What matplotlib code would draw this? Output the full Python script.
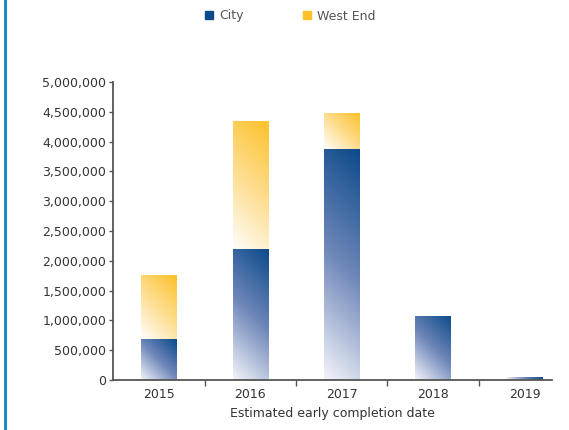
import numpy as np
import matplotlib
matplotlib.use("Agg")
import matplotlib.pyplot as plt
from matplotlib.colors import LinearSegmentedColormap
from matplotlib.lines import Line2D
from matplotlib.patches import Rectangle
from matplotlib.ticker import FuncFormatter, FixedLocator

years = ["2015", "2016", "2017", "2018", "2019"]
city = [680000, 2200000, 3880000, 1080000, 50000]
west_end = [1080000, 2150000, 600000, 0, 0]

plt.rcParams['font.family'] = ['DejaVu Sans']

city_cmap = LinearSegmentedColormap.from_list("city", ["#f3f4fa", "#6f87b9", "#0b4a8a"])
west_cmap = LinearSegmentedColormap.from_list("west", ["#fffefa", "#fddd8e", "#fdc12a"])

fig = plt.figure(figsize=(5.69, 4.30), dpi=100)
ax = fig.add_axes([113 / 569, 1 - 380 / 430, (552 - 113) / 569, (380 - 82) / 430])

x = np.arange(len(years))
width = 0.39
ax.set_xlim(-0.503, 4.30)
ax.set_ylim(0, 5000000)

bars_c = ax.bar(x, city, width, color="none", edgecolor="none")
bars_w = ax.bar(x, west_end, width, bottom=city, color="none", edgecolor="none")

fig.canvas.draw()


def fill_gradient(bar, cmap):
    # diagonal gradient: dark at top-right, light at bottom-left (in pixel space)
    x0, y0 = bar.get_x(), bar.get_y()
    w, h = bar.get_width(), bar.get_height()
    if h <= 0:
        return
    p0 = ax.transData.transform((x0, y0))
    p1 = ax.transData.transform((x0 + w, y0 + h))
    wpx, hpx = max(p1[0] - p0[0], 1), max(p1[1] - p0[1], 1)
    gx = np.linspace(0, wpx, 60)
    gy = np.linspace(hpx, 0, 200)
    X, Y = np.meshgrid(gx, gy)
    t = (X + Y) / (wpx + hpx)
    im = ax.imshow(t, cmap=cmap, vmin=0, vmax=1, aspect="auto",
                   extent=(x0, x0 + w, y0, y0 + h), interpolation="bilinear", zorder=2)
    im.set_clip_path(bar)


for b in bars_c:
    fill_gradient(b, city_cmap)
for b in bars_w:
    fill_gradient(b, west_cmap)

ax.set_xlim(-0.503, 4.30)
ax.set_ylim(0, 5000000)

for s in ["top", "right"]:
    ax.spines[s].set_visible(False)
for s in ["left", "bottom"]:
    ax.spines[s].set_color("#555555")
    ax.spines[s].set_linewidth(1.3)

ax.yaxis.set_major_locator(FixedLocator(np.arange(0, 5000001, 500000)))
ax.yaxis.set_major_formatter(FuncFormatter(lambda v, p: f"{int(v):,}"))
ax.tick_params(axis="y", length=3, width=1, color="#555555", labelsize=9,
               labelcolor="#333333", pad=2)

ax.set_xticks(x)
ax.set_xticklabels(years)
ax.set_xticks([0.5, 1.5, 2.5, 3.5], minor=True)
ax.tick_params(axis="x", which="major", length=0, labelsize=9, labelcolor="#333333", pad=6)
ax.tick_params(axis="x", which="minor", length=4, width=1, color="#555555")
ax.set_xlabel("Estimated early completion date", fontsize=9, color="#333333", labelpad=4)

# legend
handles = [Line2D([], [], marker="s", linestyle="none", markersize=5.5, color="#0b4a8a"),
           Line2D([], [], marker="s", linestyle="none", markersize=5.5, color="#fdc12a")]
fig.legend(handles, ["City", "West End"], loc="center", bbox_to_anchor=(289 / 569, 1 - 16 / 430),
           ncol=2, frameon=False, fontsize=9, labelcolor="#555555", columnspacing=4.6,
           handletextpad=0.3, handlelength=1)

# left border line
fig.add_artist(Rectangle((4 / 569, 0), 3 / 569, 1, transform=fig.transFigure,
                         color="#1b8cc0", lw=0))

fig.savefig("out.png", dpi=100)
